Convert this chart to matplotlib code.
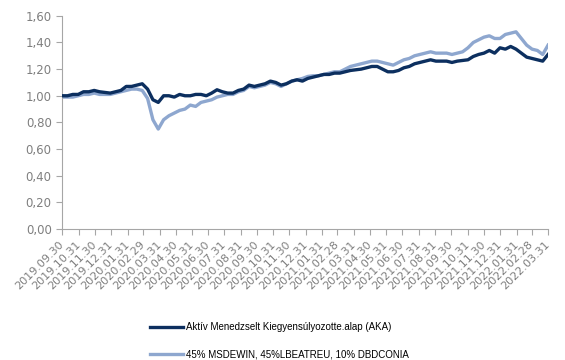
import matplotlib.pyplot as plt
import matplotlib.dates as mdates
import pandas as pd

# fund vs benchmark (~10 day steps)
aka = [1.00, 1.00, 1.01, 1.01, 1.03, 1.03, 1.04, 1.03, 1.025, 1.02,
       1.03, 1.04, 1.07, 1.07, 1.08, 1.09, 1.05, 0.97, 0.95, 1.00,
       1.00, 0.99, 1.01, 1.00, 1.00, 1.01, 1.01, 1.00, 1.02, 1.045,
       1.03, 1.02, 1.02, 1.04, 1.05, 1.08, 1.07, 1.08, 1.09, 1.11,
       1.10, 1.08, 1.09, 1.11, 1.12, 1.11, 1.13, 1.14, 1.15, 1.16,
       1.16, 1.17, 1.17, 1.18, 1.19, 1.195, 1.20, 1.21, 1.22, 1.22,
       1.20, 1.18, 1.18, 1.19, 1.21, 1.22, 1.24, 1.25, 1.26, 1.27,
       1.26, 1.26, 1.26, 1.25, 1.26, 1.265, 1.27, 1.295, 1.31, 1.32,
       1.34, 1.32, 1.36, 1.35, 1.37, 1.35, 1.32, 1.29, 1.28, 1.27,
       1.26, 1.31]
bench = [0.99, 0.99, 0.99, 1.00, 1.01, 1.01, 1.02, 1.01, 1.01, 1.01,
         1.02, 1.03, 1.04, 1.05, 1.05, 1.04, 0.98, 0.82, 0.75, 0.82,
         0.85, 0.87, 0.89, 0.90, 0.93, 0.92, 0.95, 0.96, 0.97, 0.99,
         1.00, 1.01, 1.01, 1.03, 1.04, 1.07, 1.06, 1.07, 1.08, 1.10,
         1.09, 1.07, 1.09, 1.11, 1.12, 1.13, 1.145, 1.15, 1.15, 1.16,
         1.17, 1.18, 1.18, 1.20, 1.22, 1.23, 1.24, 1.25, 1.26, 1.26,
         1.25, 1.24, 1.23, 1.25, 1.27, 1.28, 1.30, 1.31, 1.32, 1.33,
         1.32, 1.32, 1.32, 1.31, 1.32, 1.33, 1.36, 1.40, 1.42, 1.44,
         1.45, 1.43, 1.43, 1.46, 1.47, 1.48, 1.43, 1.38, 1.35, 1.34,
         1.31, 1.38]
dates = pd.date_range('2019-09-30', '2022-03-31', periods=len(aka))
month_ends = pd.date_range('2019-09-30', '2022-03-31', freq='ME')

label_aka = 'Aktív Menedzselt Kiegyensúlyozotte.alap (AKA)'
label_bench = '45% MSDEWIN, 45%LBEATREU, 10% DBDCONIA'

grey = '#7f7f7f'

fig = plt.figure(figsize=(5.65, 3.6), dpi=100)
ax = fig.add_axes([0.11, 0.364, 0.86, 0.592])

ax.plot(dates, aka, color='#0c2f5f', lw=2.4, label=label_aka, zorder=3)
ax.plot(dates, bench, color='#8ea7cf', lw=2.4, label=label_bench, zorder=2)

ax.set_ylim(0, 1.6)
ax.set_yticks([0, 0.2, 0.4, 0.6, 0.8, 1.0, 1.2, 1.4, 1.6])
ax.set_yticklabels([f'{v:.2f}'.replace('.', ',') for v in ax.get_yticks()])
ax.set_xlim(month_ends[0], month_ends[-1])
ax.set_xticks(month_ends)
ax.set_xticklabels([d.strftime('%Y.%m.%d') for d in month_ends],
                   rotation=45, ha='right', va='center', rotation_mode='anchor')

for s in ['top', 'right']:
    ax.spines[s].set_visible(False)
for s in ['left', 'bottom']:
    ax.spines[s].set_color('#a6a6a6')
ax.tick_params(axis='both', colors='#a6a6a6', labelcolor=grey, length=4)
ax.tick_params(axis='y', labelsize=8.5)
ax.tick_params(axis='x', labelsize=8, pad=6)

fig.legend(loc='upper left', bbox_to_anchor=(0.265, 0.105), frameon=False,
           prop={'family': 'Liberation Sans', 'size': 7},
           handlelength=3.4, labelspacing=1.75,
           handletextpad=0.3, borderaxespad=0, borderpad=0)

fig.savefig('out.png', dpi=100)
